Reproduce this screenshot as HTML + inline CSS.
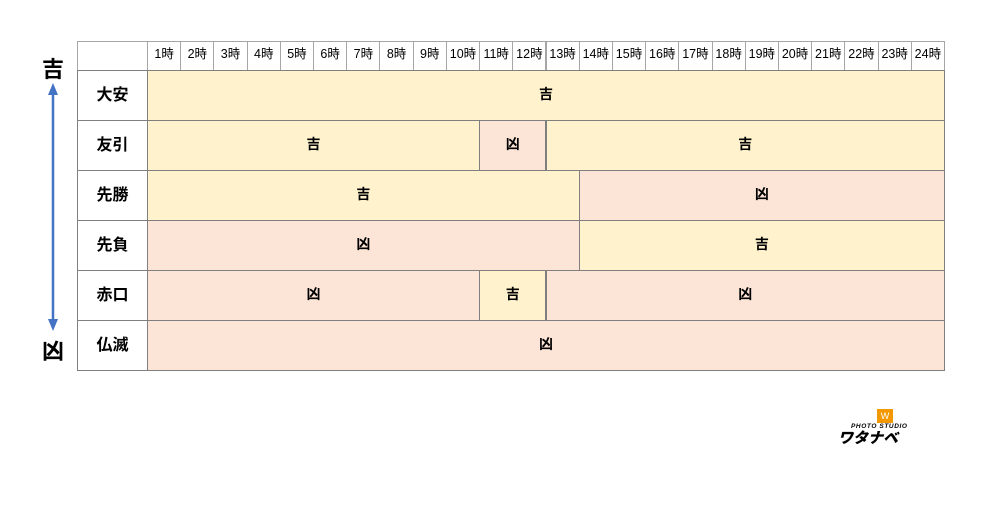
<!DOCTYPE html>
<html><head><meta charset="utf-8"><style>
body{margin:0;width:1000px;height:506px;background:#fff;position:relative;font-family:"Liberation Sans","Noto Sans CJK JP",sans-serif;overflow:hidden}
.c{position:absolute;box-sizing:border-box;display:flex;align-items:center;justify-content:center;color:#000;line-height:1;padding-bottom:3px}
.h{border:1px solid #a6a6a6;font-size:12.5px;background:#fff}
.n{border:1px solid #7f7f7f;font-size:16px;font-weight:bold;background:#fff;padding-bottom:0}
.y{background:#fff2cc;border:1px solid #7f7f7f;font-size:14px;font-weight:bold}
.p{background:#fce4d6;border:1px solid #7f7f7f;font-size:14px;font-weight:bold}
.big{position:absolute;font-size:22px;font-weight:bold;width:30px;text-align:center;line-height:1}
</style></head><body>
<div class="big" style="left:38px;top:59px">吉</div>
<div class="big" style="left:38px;top:341px">凶</div>
<svg style="position:absolute;left:0;top:0" width="100" height="400">
<line x1="53" y1="92" x2="53" y2="322" stroke="#4472c4" stroke-width="2.5"/>
<polygon points="53,83 48,95 58,95" fill="#4472c4"/>
<polygon points="53,331 48,319 58,319" fill="#4472c4"/>
</svg>
<div id="t"></div>
<div style="position:absolute;left:877px;top:409px;width:16px;height:14px;background:#f39800;color:#fff;font-size:9px;text-align:center;line-height:14px">W</div>
<div style="position:absolute;left:851px;top:424px;font-size:6.5px;font-weight:bold;font-style:italic;letter-spacing:0.6px;line-height:1">PHOTO STUDIO</div>
<div style="position:absolute;left:838px;top:431px;font-size:15px;font-weight:900;font-style:italic;letter-spacing:0px;line-height:1">ワタナベ</div>
<script>
var t=document.getElementById('t'),L=147,W=797/24,h='';
function cell(cls,x,y,w,hh,txt){h+='<div class="c '+cls+'" style="left:'+x+'px;top:'+y+'px;width:'+(w+1)+'px;height:'+(hh+1)+'px">'+txt+'</div>';}
cell('h',77,41,70,29,'');
for(var i=0;i<24;i++){var x=L+i*W;cell('h',x,41,W,29,(i+1)+'時');}
var rows=[['大安',[[0,24,'y','吉']]],['友引',[[0,10,'y','吉'],[10,12,'p','凶'],[12,24,'y','吉']]],['先勝',[[0,13,'y','吉'],[13,24,'p','凶']]],['先負',[[0,13,'p','凶'],[13,24,'y','吉']]],['赤口',[[0,10,'p','凶'],[10,12,'y','吉'],[12,24,'p','凶']]],['仏滅',[[0,24,'p','凶']]]];
rows.forEach(function(r,k){var y=70+k*50;cell('n',77,y,70,50,r[0]);r[1].forEach(function(s){cell(s[2],L+s[0]*W,y,(s[1]-s[0])*W,50,s[3]);});});
t.innerHTML=h;
</script>
</body></html>
